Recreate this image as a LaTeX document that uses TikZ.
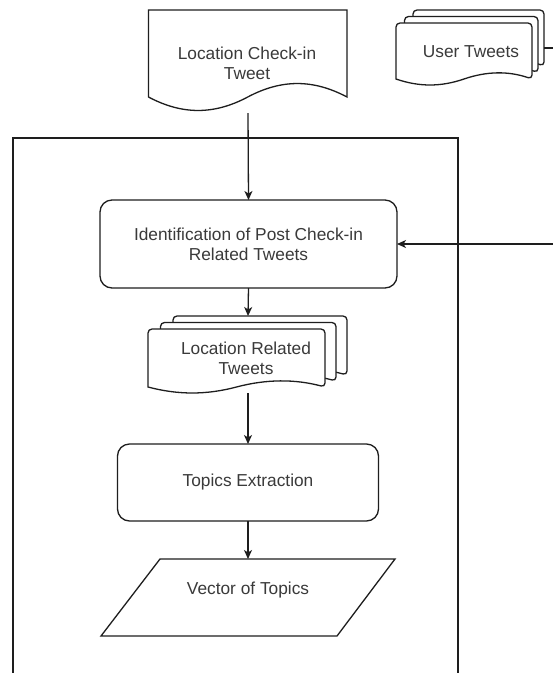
\documentclass[tikz,border=0pt]{standalone}
\usepackage{fontspec}
\setmainfont{Liberation Sans}
\usetikzlibrary{arrows.meta,calc}
\definecolor{txtgray}{HTML}{3A3A3A}
\definecolor{lngray}{HTML}{1E1E1E}
\tikzset{
  ln/.style={line width=1.3pt, draw=lngray},
  arr/.style={ln, -{Stealth[length=9pt,width=8pt,inset=2.5pt]}},
  lbl/.style={text=txtgray, font=\fontsize{17.3}{20}\selectfont, align=center, inner sep=0pt},
  frame/.style={inner sep=0pt, outer sep=0pt},
  rbox/.style={ln, fill=white, rounded corners=12pt, lbl, outer sep=0pt},
}
% wave document: left, top, right, base y, amplitude, corner radius
\newcommand{\wavedoc}[6]{%
  \pgfmathsetmacro\wdA{#3-#1}%
  \pgfmathsetmacro\wdM{(#1+#3)/2}%
  \filldraw[ln, fill=white, rounded corners=#6] (#1,#4) -- (#1,#2) -- (#3,#2) -- (#3,#4)
    [sharp corners] .. controls ({#3-0.17*\wdA},{#4-1.33*#5}) and ({#3-0.33*\wdA},{#4-1.33*#5}) .. (\wdM,#4)
    .. controls ({\wdM-0.17*\wdA},{#4+1.33*#5}) and ({#1+0.17*\wdA},{#4+1.33*#5}) .. (#1,#4) -- cycle;%
}
\begin{document}
\begin{tikzpicture}[x=1pt,y=-1pt]
\clip (0,0) rectangle (553,673);
\fill[white] (0,0) rectangle (553,673);

% outer frame (open at bottom, cut by picture edge)
\draw[ln] (13,690) -- (13,138) -- (458,138) -- (458,690);

% Location Check-in Tweet (document)
\node[frame, minimum width=199pt, minimum height=103pt] (doc) at (248,61.5) {};
\wavedoc{148.5}{10}{347}{97}{13.5}{0pt}
\node[lbl] (doctxt) at (247,63) {Location Check-in\\Tweet};

% User Tweets (multi document)
\node[frame, minimum width=148pt, minimum height=75pt] (ut) at (470,47.5) {};
\wavedoc{413}{10}{544}{66}{6}{4pt}
\wavedoc{404.5}{16.5}{538}{72.5}{6}{4pt}
\wavedoc{396}{23}{532}{79}{6}{4pt}
\node[lbl] (uttxt) at (471,52) {User Tweets};

% Identification box
\node[rbox, minimum width=297pt, minimum height=88pt] (ident) at (248.5,244)
  {Identification of Post Check-in\\Related Tweets};

% Location Related Tweets (multi document)
\node[frame, minimum width=199pt, minimum height=77pt] (lrt) at (248,354.5) {};
\wavedoc{173}{316}{347}{375}{6}{4pt}
\wavedoc{160.5}{322.5}{336}{381}{6}{4pt}
\wavedoc{148}{329}{325}{387}{6}{4pt}
\node[lbl] (lrttxt) at (246,358) {Location Related\\Tweets};

% Topics Extraction
\node[rbox, minimum width=261pt, minimum height=77pt] (topics) at (248,482.5) {Topics Extraction};

% Vector of Topics (parallelogram)
\node[frame, minimum width=294pt, minimum height=77pt] (vec) at (248,597.5) {};
\filldraw[ln, fill=white] (160,559) -- (395,559) -- (337,636) -- (101,636) -- cycle;
\node[lbl] (vectxt) at (248,590) {Vector of Topics};

% connectors
\coordinate (utout) at (556,48);
\coordinate (inR) at (556,244);
\draw[ln] (utout -| ut.east) -- (utout);
\draw[arr] (inR) -- (ident.east);
\draw[arr] (doc.south) -- (ident.north);
\draw[arr] (ident.south) -- (lrt.north);
\draw[arr] (lrt.south) -- (topics.north);
\draw[arr] (topics.south) -- (vec.north);
\end{tikzpicture}
\end{document}
